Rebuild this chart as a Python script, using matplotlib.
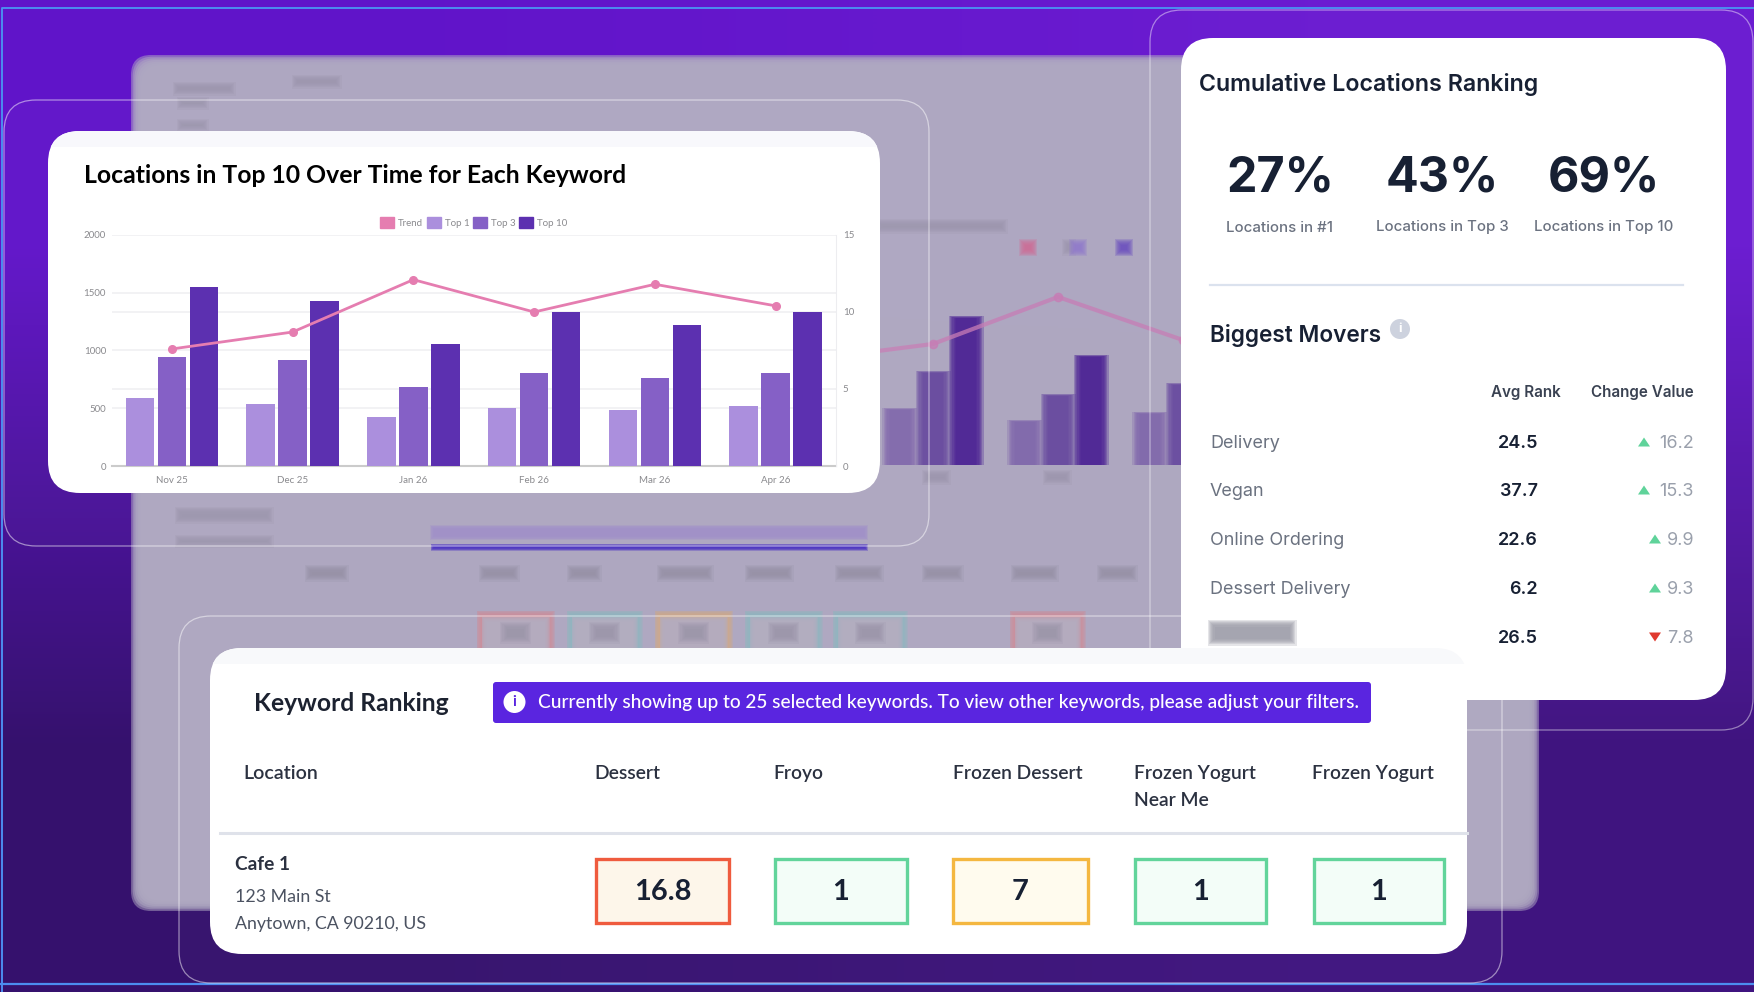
import numpy as np
import matplotlib
matplotlib.use('Agg')
import matplotlib.pyplot as plt
from matplotlib.patches import FancyBboxPatch, Rectangle, Circle, Patch, Polygon

W, H = 1754, 992

# main chart
months = ['Nov 25', 'Dec 25', 'Jan 26', 'Feb 26', 'Mar 26', 'Apr 26']
top1 = [590, 540, 425, 505, 488, 520]
top3 = [945, 920, 680, 805, 765, 805]
top10 = [1550, 1430, 1055, 1330, 1220, 1330]
trend = [7.6, 8.7, 12.1, 10.0, 11.8, 10.4]

# blurred chart behind the cards
ghost_top1 = [600, 485, 380, 450]
ghost_top3 = [950, 805, 605, 700]
ghost_top10 = [1400, 1280, 945, 1150]
ghost_trend = [910, 1048, 1455, 1082]

# cumulative card
stat_values = ['27%', '43%', '69%']
stat_labels = ['Locations in #1', 'Locations in Top 3', 'Locations in Top 10']
mover_names = ['Delivery', 'Vegan', 'Online Ordering', 'Dessert Delivery']
mover_rank = ['24.5', '37.7', '22.6', '6.2', '26.5']
mover_change = ['16.2', '15.3', '9.9', '9.3', '7.8']
mover_up = [True, True, True, True, False]

# keyword table
keywords = ['Dessert', 'Froyo', 'Frozen Dessert', 'Frozen Yogurt\nNear Me', 'Frozen Yogurt']
ranks = ['16.8', '1', '7', '1', '1']
cell_edge = ['#EF5B3E', '#62D49B', '#F4B740', '#62D49B', '#62D49B']
cell_fill = ['#FDF6EA', '#F3FDF8', '#FFFBEE', '#F3FDF8', '#F3FDF8']

plt.rcParams['font.family'] = ['Lato', 'DejaVu Sans']

fig = plt.figure(figsize=(W / 100, H / 100), dpi=100)


def px_axes(zorder):
    ax = fig.add_axes([0, 0, 1, 1], zorder=zorder)
    ax.set_xlim(0, W)
    ax.set_ylim(H, 0)
    ax.axis('off')
    ax.patch.set_alpha(0)
    return ax


def soft_rect(ax, x0, y0, x1, y1, color, blur=4, zorder=2, alpha=0.33):
    # fake a blur with stacked see-through rectangles
    for i in range(7):
        d = blur * (1 - i / 3)
        ax.add_patch(Rectangle((x0 - d, y0 - d), x1 - x0 + 2 * d, y1 - y0 + 2 * d,
                               fc=color, ec='none', alpha=alpha, zorder=zorder))


def rounded(ax, x0, y0, x1, y1, r, **kw):
    p = FancyBboxPatch((x0 + r, y0 + r), x1 - x0 - 2 * r, y1 - y0 - 2 * r,
                       boxstyle=f'round,pad={r},rounding_size={r}', **kw)
    ax.add_patch(p)
    return p


# background
bg = px_axes(0)
grad = np.array([[[0.38, 0.08, 0.79], [0.42, 0.11, 0.82]],
                 [[0.21, 0.07, 0.43], [0.25, 0.08, 0.50]]])
bg.imshow(grad, extent=(0, W, H, 0), aspect='auto', interpolation='bilinear')
bg.set_xlim(0, W)
bg.set_ylim(H, 0)
for i in range(7):
    d = 5 * (1 - i / 3)
    rounded(bg, 136 - d, 60 - d, 1534 + d, 906 + d, 20, fc='#AFA9C1', ec='none', alpha=0.5, zorder=2)
for x0, y0, x1, y1 in [(295, 78, 338, 85), (176, 85, 232, 92), (180, 100, 205, 106),
                       (180, 122, 205, 128), (178, 510, 270, 520), (178, 538, 270, 544),
                       (879, 222, 1004, 230), (1065, 242, 1072, 252),
                       (925, 473, 947, 481), (1046, 473, 1068, 481)]:
    soft_rect(bg, x0, y0, x1, y1, '#9A93AB', blur=3.5, alpha=0.2)
soft_rect(bg, 432, 527, 866, 538, '#A08FC9', blur=2)
soft_rect(bg, 432, 545, 866, 549, '#4B33C4', blur=1.5)
for x0, x1 in [(308, 345), (482, 516), (570, 598), (660, 710), (748, 790), (838, 880),
               (925, 960), (1014, 1055), (1100, 1134)]:
    soft_rect(bg, x0, 568, x1, 578, '#948EA3', blur=3.5, alpha=0.2)
for x0, x1, c in [(479, 552, '#CE8C98'), (569, 640, '#8DB6BE'), (657, 730, '#D0A886'),
                  (747, 820, '#8DB6BE'), (835, 905, '#8DB6BE'), (1012, 1083, '#CE8C98')]:
    soft_rect(bg, x0, 613, x1, 655, c, blur=2.5, alpha=0.28)
    soft_rect(bg, x0 + 5, 619, x1 - 5, 655, '#B3ACBF', blur=2.5, alpha=0.4)
    soft_rect(bg, (x0 + x1) / 2 - 12, 625, (x0 + x1) / 2 + 12, 640, '#958EA4', blur=3.5, alpha=0.15)
for x0, y0, c in [(1022, 242, '#CF6C96'), (1072, 242, '#9079CC'), (1118, 242, '#6A4DBE')]:
    soft_rect(bg, x0, y0, x0 + 12, y0 + 11, c, blur=3, alpha=0.25)

# blurred chart, same kind of bars as the real one
ghost = fig.add_axes([745.5 / W, 1 - 465 / H, 500 / W, 231 / H], zorder=1)
ghost.set_xlim(-0.5, 3.5)
ghost.set_ylim(0, 2000)
ghost.axis('off')
ghost.patch.set_alpha(0)
for vals, off, c in [(ghost_top1, -0.265, '#8067AC'), (ghost_top3, 0, '#67489F'), (ghost_top10, 0.265, '#4A2194')]:
    for i in range(7):
        d = 0.03 * (1 - i / 3)
        ghost.bar(np.arange(4) + off, np.array(vals) + d * 300, width=0.22 + 2 * d, color=c, alpha=0.3, lw=0)
ghost.plot(range(4), ghost_trend, color='#C77DB5', lw=3, alpha=0.75, marker='o', ms=6)

# cards and glass frames
top = px_axes(2)
rounded(top, 4, 100, 929, 546, 32, fc=(1, 1, 1, 0.02), ec=(1, 1, 1, 0.5), lw=0.9, zorder=1)
rounded(top, 1150, 10, 1753, 730, 32, fc=(1, 1, 1, 0.01), ec=(1, 1, 1, 0.45), lw=0.9, zorder=1)
rounded(top, 1181, 38, 1726, 700, 32, fc='white', ec='none', zorder=2)
rounded(top, 48, 131, 880, 493, 32, fc='white', ec='none', zorder=2)
band = rounded(top, 48, 131, 880, 493, 32, fc='#F8F8FC', ec='none', zorder=2.1)
band.set_clip_path(Rectangle((0, 131), W, 16, transform=top.transData))
rounded(top, 179, 616, 1502, 983, 32, fc=(1, 1, 1, 0.02), ec=(1, 1, 1, 0.5), lw=0.9, zorder=3)
soft_rect(top, 1211, 623, 1293, 642, '#9A9AA6', blur=3.5, zorder=3.1, alpha=0.25)
rounded(top, 210, 648, 1467, 954, 32, fc='white', ec='none', zorder=4)
band = rounded(top, 210, 648, 1467, 954, 32, fc='#F8F9FB', ec='none', zorder=4.1)
band.set_clip_path(Rectangle((0, 648), W, 16, transform=top.transData))

# outer border of the picture
top.plot([2, 2, W], [H, 8, 8], color='#4C8DF0', lw=1.4, zorder=1)
top.plot([0, W], [984, 984], color='#4C8DF0', lw=1.6, zorder=1)

DARK = '#172033'
GREY = '#6B7280'


def txt(x, y, s, px, color=DARK, weight='normal', ha='left', z=6, font='Lato'):
    # centre of the letters comes out a bit high, hence the 1.5
    return top.text(x, y + 1.5, s, fontsize=px * 0.72, color=color, weight=weight, ha=ha, va='center',
                    zorder=z, family=[font, 'DejaVu Sans'])


# chart card
txt(84, 174, 'Locations in Top 10 Over Time for Each Keyword', 24.8, color='black', weight='bold')
ax = fig.add_axes([111.5 / W, 1 - 466 / H, 724.5 / W, 231 / H], zorder=3)
ax.patch.set_alpha(0)
x = np.arange(len(months))
ax.bar(x - 0.265, top1, width=0.238, color='#AB8FDD', zorder=3, label='Top 1')
ax.bar(x, top3, width=0.238, color='#8560C6', zorder=3, label='Top 3')
ax.bar(x + 0.265, top10, width=0.238, color='#5C30B0', zorder=3, label='Top 10')
ax.set_xlim(-0.5, 5.5)
ax.set_ylim(0, 2000)
ax.set_yticks([0, 500, 1000, 1500, 2000])
# the right axis grid sits behind the bars too
ax.set_yticks([2000 / 3, 4000 / 3], minor=True)
ax.set_xticks(x, months)
ax.grid(axis='y', which='both', color='#F0F0F2', lw=1.2, zorder=0)
ax.set_axisbelow(True)
ax.tick_params(which='both', length=0, labelsize=7, labelcolor='#8A8A8E', pad=4)
ax.tick_params(axis='x', pad=7)
for s in ['top', 'left', 'right']:
    ax.spines[s].set_visible(False)
ax.spines['bottom'].set_color('#CBCBCB')
ax.spines['bottom'].set_linewidth(1.5)

ax2 = ax.twinx()
ax2.plot(x, trend, color='#E57DB0', lw=2, marker='o', ms=5.5, zorder=5)
ax2.set_ylim(0, 15)
ax2.set_yticks([0, 5, 10, 15])
ax2.tick_params(length=0, labelsize=7, labelcolor='#8A8A8E', pad=5)
for s in ['top', 'left', 'bottom']:
    ax2.spines[s].set_visible(False)
ax2.spines['right'].set_color('#EDEDF0')
handles = [Patch(color='#E57DB0', label='Trend'), Patch(color='#AB8FDD', label='Top 1'),
           Patch(color='#8560C6', label='Top 3'), Patch(color='#5C30B0', label='Top 10')]
ax2.legend(handles=handles, ncol=4, frameon=False, loc='lower center', bbox_to_anchor=(0.5, 1.0),
           fontsize=7.0, labelcolor='#8A8A8E', handlelength=1.45, handleheight=1.45,
           handletextpad=0.4, columnspacing=0.35, borderpad=0.2)

# cumulative card
txt(1199, 83, 'Cumulative Locations Ranking', 23.2, weight='semibold', font='Inter')
for cx, v, lab in zip([1280, 1442, 1604], stat_values, stat_labels):
    txt(cx, 177, v, 48.5, weight='bold', ha='center', font='Inter')
    txt(cx, 226, lab, 15, color=GREY, weight='medium', ha='center', font='Inter')
top.plot([1210, 1683], [285, 285], color='#DBE2EE', lw=1.6, zorder=5)
txt(1210, 334, 'Biggest Movers', 22.6, weight='semibold', font='Inter')
top.add_patch(Circle((1400, 329), 10, fc='#CDD2DE', ec='none', zorder=6))
txt(1400, 328, 'i', 13, color='white', weight='bold', ha='center', z=7, font='Inter')
txt(1561, 391, 'Avg Rank', 15.2, color='#3A4252', weight='semibold', ha='right', font='Inter')
txt(1694, 391, 'Change Value', 15.2, color='#3A4252', weight='semibold', ha='right', font='Inter')
row_y = [442, 490, 539, 588, 637]
for y, name in zip(row_y, mover_names):
    txt(1210, y, name, 18, color=GREY, font='Inter')
for y, r, c, up in zip(row_y, mover_rank, mover_change, mover_up):
    txt(1538, y, r, 18, weight='semibold', ha='right', font='Inter')
    txt(1694, y, c, 18, color='#9AA0AC', ha='right', font='Inter')
    tx = 1644 if len(c) == 4 else 1655
    d = -5 if up else 5
    top.add_patch(Polygon([(tx - 6, y - d * 0.9), (tx + 6, y - d * 0.9), (tx, y + d * 0.9)],
                          fc='#5FD39A' if up else '#E03A2F', ec='none', zorder=6))

# keyword table
txt(254, 702, 'Keyword Ranking', 24.6, color='#1C2230', weight='bold')
rounded(top, 493, 682, 1371, 723, 3, fc='#5A25E0', ec='none', zorder=5)
top.add_patch(Circle((514.5, 702), 11, fc='white', ec='none', zorder=6))
txt(514.5, 700.5, 'i', 15, color='#5A25E0', weight='bold', ha='center', z=7)
txt(537.5, 701, 'Currently showing up to 25 selected keywords. To view other keywords, please adjust your filters.',
    19.05, color='white', weight='medium')
txt(243, 772, 'Location', 19.6, color='#2B3140', weight='semibold')
head_x = [594, 773, 953, 1134, 1312]
cell_x = [(596, 729), (775, 907), (953, 1088), (1135, 1266), (1314, 1444)]
for hx, k in zip(head_x, keywords):
    lines = k.split('\n')
    for i, line in enumerate(lines):
        txt(hx, 772 + 27 * i, line, 19.3, color='#2B3140', weight='semibold')
top.plot([220, 1467], [833, 833], color='#DFE2EA', lw=2.2, zorder=5)
txt(235, 863, 'Cafe 1', 19.2, color='#2B3140', weight='bold')
txt(235, 896, '123 Main St', 17.8, color='#4B5261')
txt(235, 922, 'Anytown, CA 90210, US', 17.8, color='#4B5261')
for (x0, x1), r, e, f in zip(cell_x, ranks, cell_edge, cell_fill):
    top.add_patch(Rectangle((x0, 859), x1 - x0, 64, fc=f, ec=e, lw=2.4, zorder=5))
    txt((x0 + x1) / 2, 891, r, 29, color=DARK, weight='bold', ha='center')

fig.savefig('out.png', dpi=100)
